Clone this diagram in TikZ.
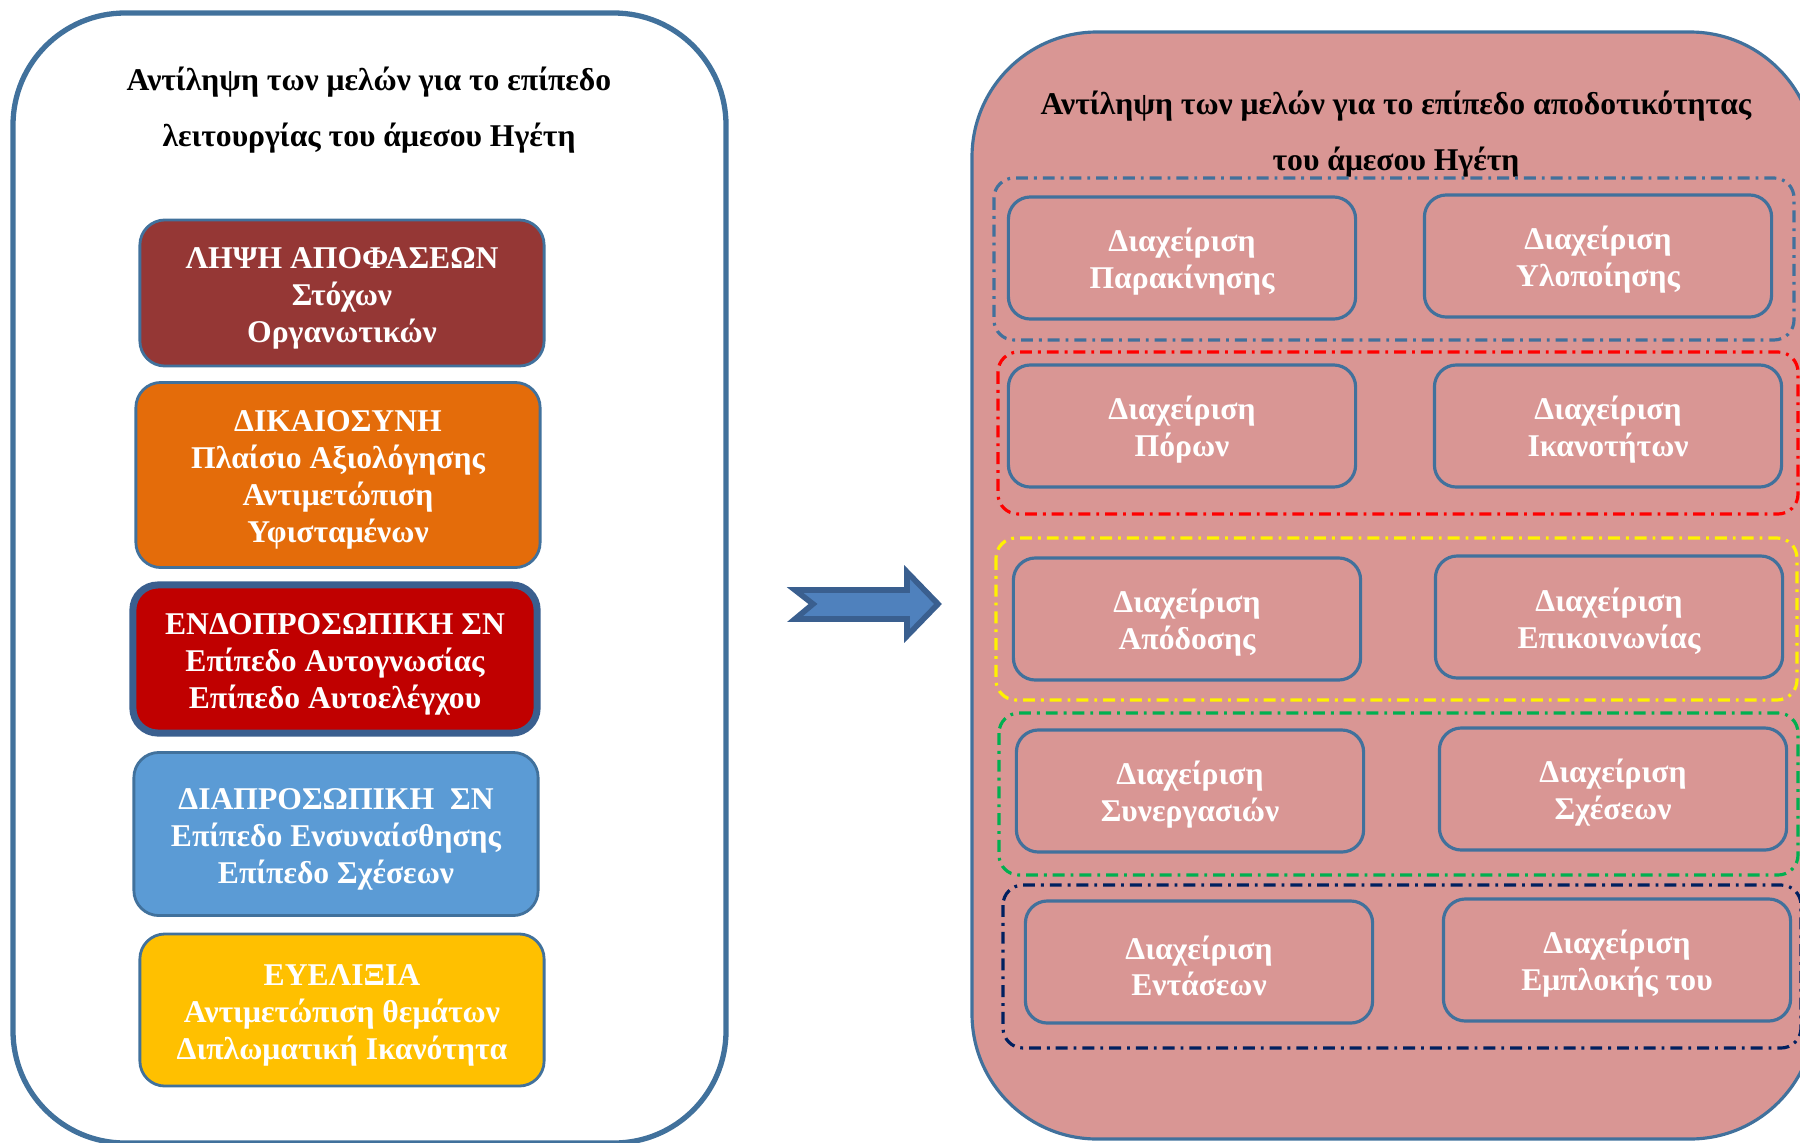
\documentclass[tikz,border=0pt]{standalone}
\usepackage{fontspec}
\setmainfont{Liberation Serif}
\usepackage{tikz}
\usepackage{xcolor}
\definecolor{frameblue}{HTML}{41719C}
\definecolor{panelpink}{HTML}{D99694}
\definecolor{decisionred}{HTML}{953735}
\definecolor{justiceorange}{HTML}{E46C0A}
\definecolor{intrared}{HTML}{C00000}
\definecolor{interblue}{HTML}{5B9BD5}
\definecolor{flexgold}{HTML}{FFC000}
\definecolor{arrowfill}{HTML}{4F81BD}
\definecolor{arrowedge}{HTML}{3A5F8F}
\definecolor{groupgreen}{HTML}{00B050}
\definecolor{groupnavy}{HTML}{002060}
% pushes the text block down a little, as in the original
\newcommand{\boxstrut}{\rule{0pt}{8.9pt}}

\begin{document}
\begin{tikzpicture}[x=0.01cm,y=-0.01cm,
  every node/.style={font=\fontsize{9}{10.5}\selectfont\bfseries,align=center},
  leftbox/.style={rectangle,rounded corners=0.25cm,draw=frameblue,line width=0.8pt,text=white,minimum width=4.04cm},
  mgmt/.style={rectangle,rounded corners=0.22cm,draw=frameblue,line width=0.9pt,fill=panelpink,text=white,minimum width=3.47cm,minimum height=1.22cm},
  group/.style={rounded corners=0.2cm,line width=0.9pt,dash pattern=on 3.4pt off 1.7pt on 0.8pt off 1.7pt},
  title/.style={font=\fontsize{9}{15.8}\selectfont\bfseries,text=black}]
\useasboundingbox (0,0) rectangle (1800,1142);
\clip (0,0) rectangle (1800,1142);

% left panel
\draw[frameblue,line width=1.5pt,rounded corners=1.12cm] (13,13) rectangle (726,1143);
\node[title] (lefttitle) at (369,110) {Αντίληψη των μελών για το επίπεδο\\λειτουργίας του άμεσου Ηγέτη};

\node[leftbox,fill=decisionred,minimum height=1.46cm] (decide) at (342,293)
  {\boxstrut ΛΗΨΗ ΑΠΟΦΑΣΕΩΝ\\Στόχων\\Οργανωτικών};
\node[leftbox,fill=justiceorange,minimum height=1.85cm] (justice) at (338,475)
  {\boxstrut ΔΙΚΑΙΟΣΥΝΗ\\Πλαίσιο Αξιολόγησης\\Αντιμετώπιση\\Υφισταμένων};
\node[leftbox,fill=intrared,draw=arrowedge,line width=2pt,minimum height=1.48cm] (intra) at (335,659)
  {\boxstrut ΕΝΔΟΠΡΟΣΩΠΙΚΗ ΣΝ\\Επίπεδο Αυτογνωσίας\\Επίπεδο Αυτοελέγχου};
\node[leftbox,fill=interblue,minimum height=1.63cm] (inter) at (336,834)
  {\boxstrut ΔΙΑΠΡΟΣΩΠΙΚΗ~~ΣΝ\\Επίπεδο Ενσυναίσθησης\\Επίπεδο Σχέσεων};
\node[leftbox,fill=flexgold,minimum height=1.52cm] (flex) at (342,1010)
  {\boxstrut ΕΥΕΛΙΞΙΑ\\Αντιμετώπιση θεμάτων\\Διπλωματική Ικανότητα};

% block arrow
\draw[fill=arrowfill,draw=arrowedge,line width=1.6pt,line join=miter]
  (795,590) -- (907,590) -- (907,572) -- (938,604) -- (907,636) -- (907,619)
  -- (795,619) -- (813,604) -- cycle;

% right panel
\draw[frameblue,line width=0.9pt,fill=panelpink,rounded corners=1.25cm] (972,32) rectangle (1815,1139);
\node[title] (righttitle) at (1396,134) {Αντίληψη των μελών για το επίπεδο αποδοτικότητας\\του άμεσου Ηγέτη};

\draw[group,frameblue] (994,178) rectangle (1794,340);
\draw[group,red] (998,352) rectangle (1798,514);
\draw[group,yellow] (996,538) rectangle (1797,700);
\draw[group,groupgreen] (999,713) rectangle (1798,875);
\draw[group,groupnavy] (1003,885) rectangle (1801,1048);

\node[mgmt] (motiv) at (1182,258) {\boxstrut Διαχείριση\\Παρακίνησης};
\node[mgmt] (implem) at (1598,256) {\boxstrut Διαχείριση\\Υλοποίησης};
\node[mgmt] (resour) at (1182,426) {\boxstrut Διαχείριση\\Πόρων};
\node[mgmt] (abil) at (1608,426) {\boxstrut Διαχείριση\\Ικανοτήτων};
\node[mgmt] (perf) at (1187,619) {\boxstrut Διαχείριση\\Απόδοσης};
\node[mgmt] (commun) at (1609,617) {\boxstrut Διαχείριση\\Επικοινωνίας};
\node[mgmt] (coop) at (1190,791) {\boxstrut Διαχείριση\\Συνεργασιών};
\node[mgmt] (relat) at (1613,789) {\boxstrut Διαχείριση\\Σχέσεων};
\node[mgmt] (tens) at (1199,962) {\boxstrut Διαχείριση\\Εντάσεων};
\node[mgmt] (involv) at (1617,960) {\boxstrut Διαχείριση\\Εμπλοκής του};
\end{tikzpicture}
\end{document}
